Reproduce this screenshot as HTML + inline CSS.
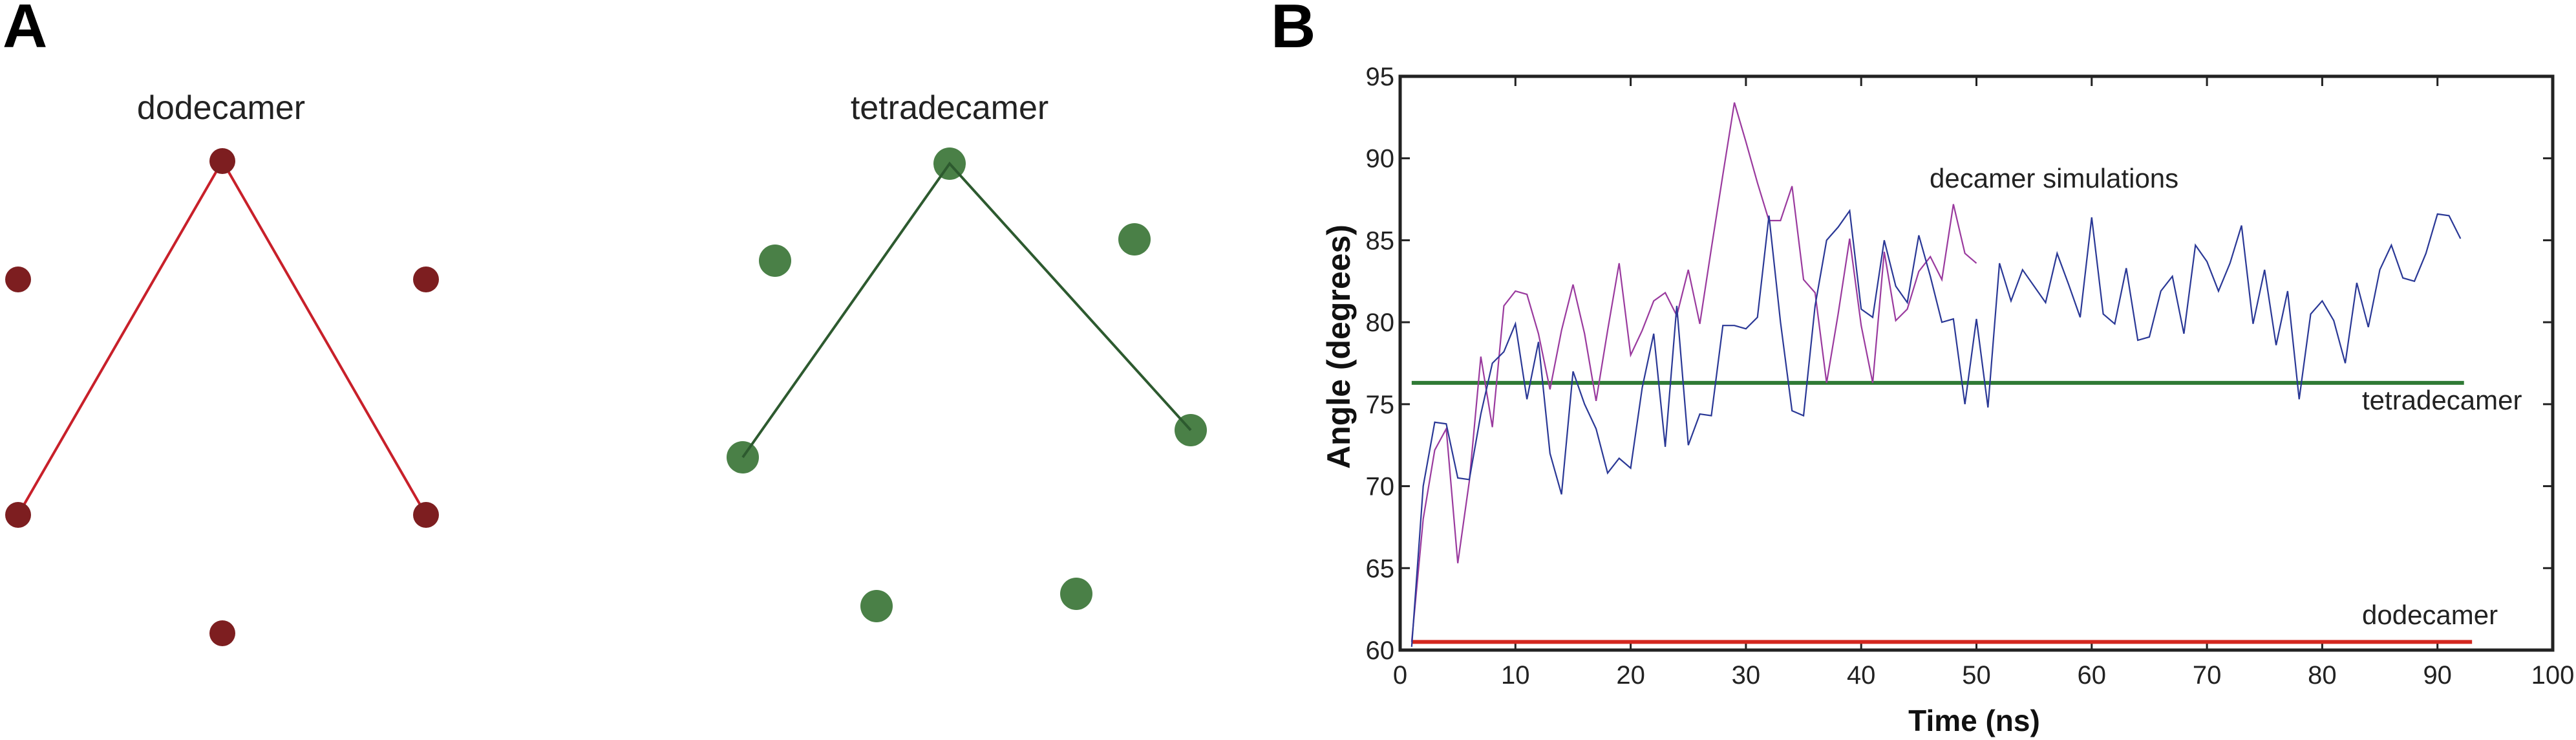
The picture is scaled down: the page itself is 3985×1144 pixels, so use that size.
<!DOCTYPE html>
<html><head><meta charset="utf-8"><style>
html,body{margin:0;padding:0;background:#fff;}
svg{display:block;}
text{font-family:"Liberation Sans",sans-serif;}
</style></head><body>
<svg id="fig" width="3985" height="1144" viewBox="0 0 3985 1144" xmlns="http://www.w3.org/2000/svg">
<g>
<text x="4" y="73" font-size="96" font-weight="bold">A</text>
<text x="342" y="184" font-size="52" text-anchor="middle" fill="#222">dodecamer</text>
<text x="1469" y="184" font-size="52" text-anchor="middle" fill="#222">tetradecamer</text>
<polyline points="28,796 344,249 659,796" fill="none" stroke="#c8202a" stroke-width="4"/>
<g fill="#7d1e20">
<circle cx="344" cy="249" r="20"/>
<circle cx="28" cy="432" r="20"/>
<circle cx="659" cy="432" r="20"/>
<circle cx="28" cy="796" r="20"/>
<circle cx="659" cy="796" r="20"/>
<circle cx="344" cy="979" r="20"/>
</g>
<g fill="#4a8047">
<circle cx="1469" cy="253" r="25"/>
<circle cx="1199" cy="403" r="25"/>
<circle cx="1755" cy="370" r="25"/>
<circle cx="1149" cy="707" r="25"/>
<circle cx="1842" cy="665" r="25"/>
<circle cx="1356" cy="937" r="25"/>
<circle cx="1665" cy="918" r="25"/>
</g>
<polyline points="1149,707 1469,253 1842,665" fill="none" stroke="#2d5a2f" stroke-width="4"/>
</g>
<g id="panelB">
<text x="1966" y="73" font-size="96" font-weight="bold">B</text>
</g>
</svg>
<script>
const xTicks=[0,10,20,30,40,50,60,70,80,90,100];
const yTicks=[60,65,70,75,80,85,90,95];
const blueX=[];for(let i=1;i<=92;i++)blueX.push(i);
const blueY=[60.2,70,73.9,73.8,70.5,70.4,74.4,77.5,78.2,79.9,75.3,78.8,72.0,69.5,77.0,75.0,73.5,70.8,71.7,71.1,76.0,79.3,72.4,81.0,72.5,74.4,74.3,79.8,79.8,79.6,80.3,86.5,80.0,74.6,74.3,81.0,85.0,85.8,86.8,80.8,80.3,85.0,82.2,81.2,85.3,82.8,80.0,80.2,75.0,80.2,74.8,83.6,81.3,83.2,82.2,81.2,84.2,82.3,80.3,86.4,80.5,79.9,83.3,78.9,79.1,81.9,82.8,79.3,84.7,83.7,81.9,83.6,85.9,79.9,83.2,78.6,81.9,75.3,80.5,81.3,80.1,77.5,82.4,79.7,83.2,84.7,82.7,82.5,84.2,86.6,86.5,85.1];
const magX=[];for(let i=1;i<=50;i++)magX.push(i);
const magY=[60.5,68,72.2,73.5,65.3,70.3,77.9,73.6,81.0,81.9,81.7,79.3,75.9,79.5,82.3,79.3,75.2,79.5,83.6,78.0,79.5,81.3,81.8,80.4,83.2,79.9,84.5,89.0,93.4,91.0,88.5,86.2,86.2,88.3,82.6,81.8,76.3,80.5,85.1,79.8,76.3,84.3,80.1,80.8,83.1,84.0,82.6,87.2,84.2,83.6];
const tetraVal=[76.3];const tetraRange=[1,92.3];
const dodecaVal=[60.5];const dodecaRange=[1,93];

const NS="http://www.w3.org/2000/svg";
const g=document.getElementById('panelB');
const L=2166,R=3949,T=118,B=1005;
const sx=v=>L+(v-0)/100*(R-L);
const sy=v=>B-(v-60)/35*(B-T);
function mk(tag,attrs,parent){const e=document.createElementNS(NS,tag);for(const k in attrs)e.setAttribute(k,attrs[k]);(parent||g).appendChild(e);return e;}

xTicks.forEach(t=>{
  const a=mk('line',{x1:sx(t),x2:sx(t),y1:B,y2:B-15,stroke:'#222','stroke-width':3});
  
  
  const b=mk('line',{x1:sx(t),x2:sx(t),y1:T,y2:T+15,stroke:'#222','stroke-width':3});
  
  
  const l=mk('text',{x:sx(t),y:1057,'font-size':40,'text-anchor':'middle',fill:'#222'});
  l.textContent=t;
  
  
});
yTicks.forEach(t=>{
  const a=mk('line',{x1:L,x2:L+15,y1:sy(t),y2:sy(t),stroke:'#222','stroke-width':3});
  
  
  const b=mk('line',{x1:R,x2:R-15,y1:sy(t),y2:sy(t),stroke:'#222','stroke-width':3});
  
  
  const l=mk('text',{x:2157,y:sy(t)+14,'font-size':40,'text-anchor':'end',fill:'#222'});
  l.textContent=t;
  
  
});
const red=mk('line',{x1:sx(dodecaRange[0]),x2:sx(dodecaRange[1]),y1:sy(dodecaVal[0]),y2:sy(dodecaVal[0]),stroke:'#d3271f','stroke-width':6});


const grn=mk('line',{x1:sx(tetraRange[0]),x2:sx(tetraRange[1]),y1:sy(tetraVal[0]),y2:sy(tetraVal[0]),stroke:'#2f7a35','stroke-width':6});


const mp=mk('polyline',{points:magX.map((x,i)=>sx(x)+','+sy(magY[i])).join(' '),fill:'none',stroke:'#9a3a9e','stroke-width':2.2});


const bp=mk('polyline',{points:blueX.map((x,i)=>sx(x)+','+sy(blueY[i])).join(' '),fill:'none',stroke:'#2a3896','stroke-width':2.2});


const fr=mk('rect',{x:L,y:T,width:R-L,height:B-T,fill:'none',stroke:'#222','stroke-width':5});


const texts=[['decamer simulations',2985,290,'decamer-annotation'],['tetradecamer',3654,633,'tetradecamer-annotation'],['dodecamer',3654,965,'dodecamer-annotation']];
texts.forEach(([s,x,y,n])=>{const t=mk('text',{x:x,y:y,'font-size':42,fill:'#222'});t.textContent=s;
  
  });
const xt=mk('text',{x:3054,y:1130,'font-size':46,'font-weight':'bold','text-anchor':'middle',fill:'#111'});
xt.textContent='Time (ns)';


const yt=mk('text',{x:0,y:0,'font-size':50,'font-weight':'bold','text-anchor':'middle',fill:'#111',transform:'translate(2088,536) rotate(-90)'});
yt.textContent='Angle (degrees)';


</script>
</body></html>
